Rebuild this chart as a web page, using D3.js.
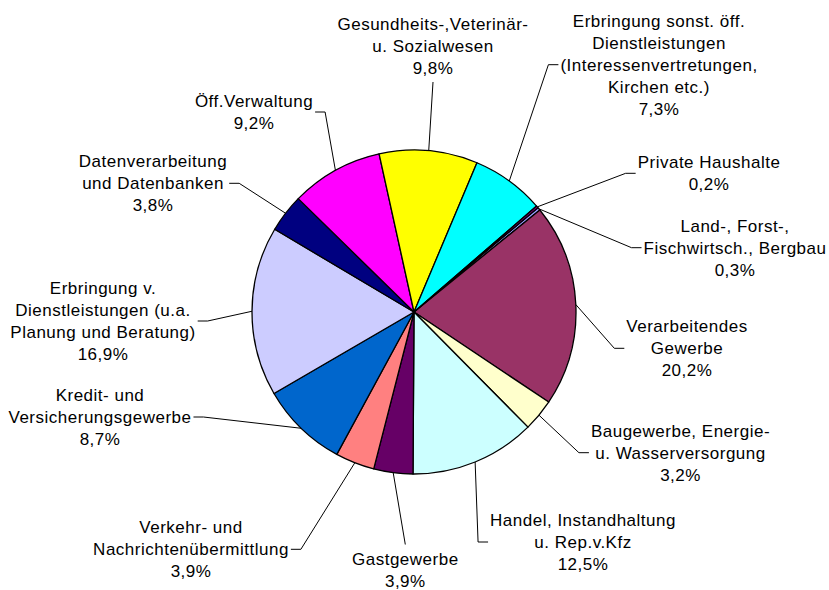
<!DOCTYPE html>
<html>
<head>
<meta charset="utf-8">
<script src="https://cdn.jsdelivr.net/npm/d3@7"></script>
<style>
  body { margin: 0; background: #fff; }
  svg text { font-family: "Liberation Sans", Arial, sans-serif; font-size: 17px; letter-spacing: 0.5px; fill: #000; }
</style>
</head>
<body>
<svg id="chart" width="829" height="590"></svg>
<script>
// Anteile der Wirtschaftsbereiche (%), Reihenfolge wie in der Quelle
const categories = [
    'Land-, Forst-,\nFischwirtsch., Bergbau',
    'Verarbeitendes\nGewerbe',
    'Baugewerbe, Energie-\nu. Wasserversorgung',
    'Handel, Instandhaltung\nu. Rep.v.Kfz',
    'Gastgewerbe',
    'Verkehr- und\nNachrichtenübermittlung',
    'Kredit- und\nVersicherungsgewerbe',
    'Erbringung v.\nDienstleistungen (u.a.\nPlanung und Beratung)',
    'Datenverarbeitung\nund Datenbanken',
    'Öff.Verwaltung',
    'Gesundheits-,Veterinär-\nu. Sozialwesen',
    'Erbringung sonst. öff.\nDienstleistungen\n(Interessenvertretungen,\nKirchen etc.)',
    'Private Haushalte'
];
const values = [0.3, 20.2, 3.2, 12.5, 3.9, 3.9, 8.7, 16.9, 3.8, 9.2, 9.8, 7.3, 0.2];
const colors = ['#9999FF', '#993366', '#FFFFCC', '#CCFFFF', '#660066', '#FF8080', '#0066CC',
                '#CCCCFF', '#000080', '#FF00FF', '#FFFF00', '#00FFFF', '#800080'];

// Beschriftungen: Mitte x, erste Grundlinie y
const labelPos = [
    [735, 231.7], [687, 332.3], [680.5, 436.7], [583, 526], [405.3, 564.5],
    [191, 533.3], [100, 401], [103, 294], [153, 167.3], [254, 107],
    [433, 30], [659, 26.7], [709, 168.3]
];

const CX = 414, CY = 312, R = 162;
const LINE_H = 22;
const START_DEG = 49.9;

const svg = d3.select('#chart');
const fmt = v => d3.format('.1f')(v).replace('.', ',') + '%';

const data = values.map((v, i) => ({ name: categories[i], value: v, color: colors[i], pos: labelPos[i] }));

const pie = d3.pie()
    .value(d => d.value)
    .sort(null)
    .startAngle(START_DEG * Math.PI / 180)
    .endAngle((START_DEG + 360) * Math.PI / 180);

const arcs = pie(data);
const arc = d3.arc().innerRadius(0).outerRadius(R);

const g = svg.append('g').attr('transform', `translate(${CX},${CY})`);

g.selectAll('path.slice')
    .data(arcs)
    .join('path')
    .attr('class', 'slice')
    .attr('d', arc)
    .attr('fill', d => d.data.color)
    .attr('stroke', '#000')
    .attr('stroke-width', 1.3)
    .attr('stroke-linejoin', 'round');

// ---------- Beschriftungen ----------
const labels = svg.append('g').attr('class', 'labels');
const leaders = svg.append('g').attr('class', 'leaders');

arcs.forEach(a => {
    const [lx, ly] = a.data.pos;
    const lines = a.data.name.split('\n').concat(fmt(a.data.value));
    const t = labels.append('text').attr('text-anchor', 'middle');
    lines.forEach((ln, k) => {
        t.append('tspan').attr('x', lx).attr('y', ly + k * LINE_H).text(ln);
    });

    const mid = (a.startAngle + a.endAngle) / 2;
    const ex = CX + R * Math.sin(mid);
    const ey = CY - R * Math.cos(mid);
    const box = t.node().getBBox();
    const midY = ly + (lines.length - 1) * LINE_H / 2 - 6;

    let pts;
    if (Math.abs(lx - CX) < 40) {
        // über oder unter dem Kreis
        if (ly < CY) pts = [[lx, ly + (lines.length - 1) * LINE_H + 8], [ex, ey]];
        else pts = [[lx, ly - 20], [ex, ey]];
    } else if (lx < CX) {
        const x0 = box.x + box.width + 2;
        pts = [[x0, midY], [x0 + 10, midY], [ex, ey]];
    } else {
        const x0 = box.x - 2;
        pts = [[x0, midY], [x0 - 10, midY], [ex, ey]];
    }
    leaders.append('path')
        .attr('d', d3.line()(pts))
        .attr('fill', 'none')
        .attr('stroke', '#000')
        .attr('stroke-width', 1);
});
</script>
</body>
</html>
